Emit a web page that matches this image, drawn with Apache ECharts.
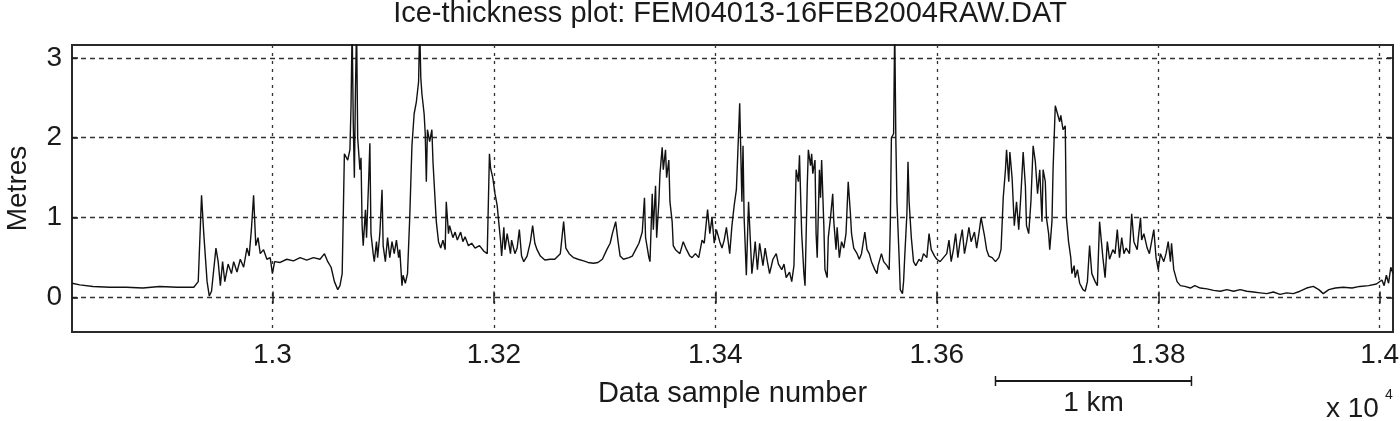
<!DOCTYPE html>
<html>
<head>
<meta charset="utf-8">
<title>Ice-thickness plot</title>
<script src="https://cdn.jsdelivr.net/npm/echarts@6/dist/echarts.min.js"></script>
<style>
  html, body { margin: 0; padding: 0; background: #fff; }
  #chart { width: 1400px; height: 421px; }
</style>
</head>
<body>
<div id="chart"></div>
<script>
// data (sample number / ice thickness in metres)
var sampleNo = [
  12819, 12826, 12838, 12853, 12868, 12883, 12898, 12914, 12929, 12933,
  12936, 12938, 12941, 12943, 12945, 12949, 12951, 12953, 12955, 12957,
  12960, 12963, 12965, 12968, 12971, 12974, 12977, 12979, 12981, 12983,
  12985, 12987, 12989, 12992, 12995, 12998, 13000, 13002, 13007, 13013,
  13019, 13025, 13031, 13037, 13043, 13047, 13050, 13053, 13056, 13059,
  13061, 13063, 13065, 13068, 13070, 13071, 13072, 13073, 13074, 13075,
  13076, 13077, 13079, 13080, 13081, 13082, 13084, 13085, 13087, 13088,
  13089, 13091, 13092, 13094, 13095, 13097, 13099, 13100, 13102, 13104,
  13106, 13108, 13110, 13112, 13114, 13115, 13117, 13118, 13120, 13122,
  13124, 13126, 13128, 13130, 13132, 13133, 13134, 13135, 13137, 13138,
  13139, 13140, 13142, 13144, 13145, 13147, 13148, 13150, 13152, 13154,
  13156, 13157, 13159, 13160, 13163, 13165, 13167, 13170, 13172, 13174,
  13177, 13180, 13183, 13187, 13191, 13194, 13196, 13197, 13199, 13201,
  13203, 13204, 13206, 13207, 13209, 13210, 13212, 13215, 13216, 13219,
  13221, 13223, 13225, 13227, 13230, 13233, 13235, 13237, 13239, 13242,
  13246, 13251, 13255, 13260, 13263, 13265, 13268, 13272, 13276, 13281,
  13285, 13290, 13294, 13298, 13302, 13305, 13307, 13310, 13312, 13314,
  13317, 13322, 13325, 13328, 13331, 13334, 13336, 13337, 13340, 13341,
  13343, 13344, 13346, 13347, 13349, 13350, 13352, 13353, 13355, 13356,
  13358, 13359, 13361, 13362, 13364, 13368, 13371, 13374, 13377, 13379,
  13382, 13385, 13388, 13390, 13393, 13395, 13397, 13399, 13401, 13404,
  13406, 13408, 13410, 13413, 13415, 13417, 13419, 13420, 13422, 13424,
  13425, 13426, 13428, 13430, 13431, 13433, 13435, 13436, 13438, 13440,
  13443, 13445, 13447, 13449, 13452, 13455, 13457, 13460, 13462, 13464,
  13467, 13469, 13471, 13473, 13475, 13476, 13478, 13480, 13481, 13483,
  13484, 13486, 13487, 13488, 13490, 13491, 13492, 13494, 13495, 13496,
  13498, 13499, 13501, 13502, 13504, 13506, 13507, 13509, 13510, 13512,
  13514, 13516, 13518, 13520, 13522, 13523, 13525, 13528, 13530, 13532,
  13535, 13537, 13539, 13541, 13544, 13546, 13547, 13550, 13552, 13555,
  13557, 13558, 13559, 13561, 13562, 13563, 13564, 13566, 13567, 13569,
  13570, 13571, 13573, 13574, 13575, 13577, 13579, 13581, 13584, 13586,
  13588, 13591, 13593, 13595, 13598, 13600, 13603, 13606, 13609, 13611,
  13613, 13615, 13617, 13619, 13621, 13623, 13625, 13627, 13629, 13631,
  13634, 13636, 13638, 13640, 13643, 13645, 13647, 13650, 13653, 13656,
  13658, 13660, 13662, 13663, 13665, 13666, 13668, 13670, 13672, 13674,
  13676, 13678, 13680, 13681, 13683, 13685, 13687, 13689, 13691, 13693,
  13695, 13696, 13698, 13699, 13701, 13702, 13704, 13705, 13707, 13709,
  13711, 13712, 13714, 13716, 13717, 13718, 13719, 13721, 13722, 13724,
  13725, 13727, 13729, 13732, 13734, 13736, 13738, 13740, 13743, 13745,
  13747, 13750, 13752, 13754, 13756, 13759, 13761, 13763, 13765, 13767,
  13769, 13771, 13774, 13776, 13778, 13781, 13782, 13784, 13785, 13787,
  13790, 13792, 13794, 13796, 13798, 13800, 13802, 13805, 13807, 13809,
  13811, 13812, 13814, 13817, 13820, 13824, 13829, 13833, 13838, 13844,
  13850, 13856, 13862, 13868, 13874, 13880, 13886, 13892, 13898, 13904,
  13910, 13916, 13922, 13928, 13934, 13940, 13945, 13949, 13954, 13960,
  13967, 13975, 13982, 13990, 13997, 14002, 14004, 14006, 14008, 14010,
  14012
]

var metres = [
  0.18, 0.16, 0.14, 0.13, 0.13, 0.12, 0.14, 0.13, 0.13, 0.2,
  1.28, 0.8, 0.2, 0.02, 0.08, 0.62, 0.45, 0.15, 0.45, 0.2,
  0.42, 0.3, 0.45, 0.32, 0.48, 0.38, 0.62, 0.52, 0.85, 1.28,
  0.65, 0.75, 0.55, 0.6, 0.48, 0.5, 0.3, 0.45, 0.44, 0.48,
  0.46, 0.5, 0.47, 0.5, 0.48, 0.55, 0.45, 0.38, 0.2, 0.1,
  0.15, 0.3, 1.8, 1.72, 1.85, 2.4, 3.4, 2.2, 1.5, 2.6,
  3.4, 2.0, 1.6, 1.75, 0.9, 0.65, 1.1, 0.75, 1.5, 1.93,
  0.8, 0.55, 0.45, 0.7, 0.5, 0.8, 1.35, 0.65, 0.45, 0.75,
  0.5, 0.7, 0.55, 0.72, 0.5, 0.6, 0.15, 0.28, 0.18, 0.3,
  1.0, 1.9, 2.3, 2.45, 2.7, 3.4, 2.75, 2.55, 2.3, 2.05,
  1.45, 2.1, 1.95, 2.1, 1.7, 1.2, 0.95, 0.7, 0.62, 0.72,
  0.6, 1.2, 0.8, 0.9, 0.75, 0.82, 0.72, 0.82, 0.7, 0.76,
  0.65, 0.68, 0.62, 0.65, 0.58, 0.55, 1.8, 1.62, 1.5, 1.3,
  1.15, 1.0, 0.72, 0.52, 0.88, 0.6, 0.8, 0.55, 0.72, 0.55,
  0.62, 0.85, 0.52, 0.45, 0.52, 0.7, 0.9, 0.68, 0.6, 0.52,
  0.47, 0.48, 0.48, 0.55, 0.95, 0.62, 0.55, 0.5, 0.48, 0.46,
  0.44, 0.43, 0.44, 0.48, 0.6, 0.68, 0.8, 0.95, 0.72, 0.52,
  0.48, 0.5, 0.52, 0.6, 0.68, 0.82, 1.25, 0.75, 0.5, 0.45,
  1.3, 0.85, 1.4, 0.75, 1.2, 1.55, 1.88, 1.6, 1.85, 1.5,
  1.72, 1.2, 0.95, 0.65, 0.6, 0.55, 0.7, 0.6, 0.52, 0.5,
  0.55, 0.5, 0.72, 0.68, 1.1, 0.8, 1.0, 0.68, 0.85, 0.7,
  0.62, 0.72, 0.88, 0.55, 0.9, 1.15, 1.35, 1.7, 2.43, 1.2,
  1.9, 1.0, 0.28, 1.2, 0.9, 0.3, 0.55, 0.7, 0.35, 0.68,
  0.4, 0.62, 0.45, 0.3, 0.48, 0.55, 0.42, 0.35, 0.42, 0.25,
  0.32, 0.2, 0.4, 1.6, 1.45, 1.78, 0.8, 0.3, 0.15, 1.4,
  1.85, 1.65, 1.8, 1.55, 1.72, 0.8, 0.5, 1.6, 1.25, 1.72,
  0.9, 0.35, 0.25, 0.75, 1.0, 1.3, 0.95, 0.6, 0.88, 0.5,
  0.7, 0.62, 0.8, 1.45, 1.05, 0.8, 0.62, 0.55, 0.48, 0.55,
  0.82, 0.6, 0.55, 0.45, 0.35, 0.3, 0.4, 0.55, 0.45, 0.4,
  0.35, 0.9, 2.0, 2.05, 3.4, 2.0, 1.2, 0.5, 0.1, 0.05,
  0.2, 0.5, 1.05, 1.7, 1.2, 0.75, 0.45, 0.4, 0.48, 0.45,
  0.55, 0.5, 0.8, 0.6, 0.52, 0.48, 0.45, 0.5, 0.55, 0.72,
  0.45, 0.6, 0.8, 0.5, 0.7, 0.85, 0.55, 0.7, 0.88, 0.7,
  0.82, 0.62, 0.8, 1.0, 0.78, 0.6, 0.52, 0.5, 0.45, 0.5,
  0.6, 1.25, 1.6, 1.85, 1.45, 1.82, 1.5, 0.9, 1.2, 0.85,
  1.3, 1.82, 1.4, 0.9, 0.8, 1.2, 1.9, 1.7, 1.3, 1.6,
  0.95, 1.6, 1.45, 1.0, 0.8, 0.6, 0.95, 1.6, 2.4, 2.3,
  2.2, 2.28, 2.1, 2.15, 1.0, 0.85, 0.7, 0.5, 0.3, 0.4,
  0.25, 0.35, 0.18, 0.1, 0.08, 0.2, 0.65, 0.3, 0.2, 0.15,
  0.95, 0.5, 0.25, 0.7, 0.48, 0.6, 0.55, 0.85, 0.5, 0.75,
  0.55, 0.62, 0.55, 1.05, 0.7, 0.6, 0.75, 1.0, 0.72, 0.8,
  0.62, 0.55, 0.7, 0.85, 0.5, 0.35, 0.55, 0.45, 0.55, 0.7,
  0.45, 0.68, 0.35, 0.2, 0.15, 0.14, 0.12, 0.15, 0.12, 0.11,
  0.09, 0.08, 0.1, 0.08, 0.1, 0.08, 0.07, 0.06, 0.05, 0.07,
  0.04, 0.06, 0.05, 0.08, 0.12, 0.14, 0.1, 0.05, 0.1, 0.12,
  0.13, 0.12, 0.14, 0.15, 0.17, 0.22, 0.15, 0.28, 0.18, 0.38,
  0.3
]

var xTicks = [13000, 13200, 13400, 13600, 13800, 14000]
var yTicks = [0, 1, 2, 3]
var scaleBarSamples = [13653, 13830] // 1 km along the track

var font = "'Liberation Sans', Arial, Helvetica, sans-serif"
var ink = '#1a1a1a'

var chart = echarts.init(document.getElementById('chart'))

function tickAxis(extra) {
  return Object.assign({
    axisLine: { show: false },
    axisTick: { show: true, inside: true, length: 6, lineStyle: { color: ink, width: 1.5 } },
    splitLine: { show: false }
  }, extra)
}

chart.setOption({
  animation: false,
  backgroundColor: '#fff',
  title: {
    text: 'Ice-thickness plot: FEM04013-16FEB2004RAW.DAT',
    left: 730,
    top: -1,
    padding: 0,
    textAlign: 'center',
    textStyle: { fontFamily: font, fontSize: 29, fontWeight: 'normal', color: ink }
  },
  grid: {
    left: 72,
    right: 7,
    top: 45,
    bottom: 89,
    outerBoundsMode: 'none',
    show: true,
    borderColor: '#2a2a2a',
    borderWidth: 2,
    backgroundColor: '#fff'
  },
  xAxis: [
    tickAxis({
      type: 'value',
      min: 12819,
      max: 14012,
      position: 'bottom',
      name: 'Data sample number',
      nameLocation: 'middle',
      nameGap: 47,
      nameTextStyle: { fontFamily: font, fontSize: 29, color: ink },
      axisTick: { show: true, inside: true, length: 6, customValues: xTicks, lineStyle: { color: ink, width: 1.5 } },
      axisLabel: {
        customValues: xTicks,
        margin: 9,
        fontFamily: font,
        fontSize: 28,
        color: ink,
        formatter: function (v) { return String(+(v / 10000).toFixed(2)) }
      },
      splitLine: { show: true, lineStyle: { color: '#333', width: 1.3, type: [3, 5] } }
    }),
    tickAxis({
      type: 'value',
      min: 12819,
      max: 14012,
      position: 'top',
      axisTick: { show: true, inside: true, length: 6, customValues: xTicks, lineStyle: { color: ink, width: 1.5 } },
      axisLabel: { show: false }
    })
  ],
  yAxis: [
    tickAxis({
      type: 'value',
      min: -0.43,
      max: 3.16,
      position: 'left',
      name: 'Metres',
      nameLocation: 'middle',
      nameGap: 40,
      nameTextStyle: { fontFamily: font, fontSize: 28, color: ink },
      axisTick: { show: true, inside: true, length: 6, customValues: yTicks, lineStyle: { color: ink, width: 1.5 } },
      axisLabel: {
        customValues: yTicks,
        margin: 10,
        fontFamily: font,
        fontSize: 28,
        color: ink
      },
      splitLine: { show: true, lineStyle: { color: '#333', width: 1.3, type: [5, 4] } }
    }),
    tickAxis({
      type: 'value',
      min: -0.43,
      max: 3.16,
      position: 'right',
      axisTick: { show: true, inside: true, length: 6, customValues: yTicks, lineStyle: { color: ink, width: 1.5 } },
      axisLabel: { show: false }
    })
  ],
  series: [{
    name: 'Ice thickness',
    type: 'line',
    xAxisIndex: 0,
    yAxisIndex: 0,
    showSymbol: false,
    symbol: 'none',
    clip: true,
    lineStyle: { color: '#111', width: 1.4 },
    data: sampleNo.map(function (s, i) { return [s, metres[i]] })
  }]
})

// scale bar and exponent note, placed from the x axis scale
function drawNotes() {
  var x0 = chart.convertToPixel({ xAxisIndex: 0 }, scaleBarSamples[0])
  var x1 = chart.convertToPixel({ xAxisIndex: 0 }, scaleBarSamples[1])
  var barY = 381
  chart.setOption({
    graphic: [
      { type: 'line', shape: { x1: x0, y1: barY, x2: x1, y2: barY }, style: { stroke: ink, lineWidth: 2 } },
      { type: 'line', shape: { x1: x0, y1: barY - 5, x2: x0, y2: barY + 5 }, style: { stroke: ink, lineWidth: 1.5 } },
      { type: 'line', shape: { x1: x1, y1: barY - 5, x2: x1, y2: barY + 5 }, style: { stroke: ink, lineWidth: 1.5 } },
      {
        type: 'text', x: (x0 + x1) / 2, y: 403,
        style: { text: '1 km', font: '28px ' + font, fill: ink, textAlign: 'center', textVerticalAlign: 'middle' }
      },
      {
        type: 'text', x: 1326, y: 409,
        style: { text: 'x 10', font: '28px ' + font, fill: ink, textAlign: 'left', textVerticalAlign: 'middle' }
      },
      {
        type: 'text', x: 1385, y: 395,
        style: { text: '4', font: '14px ' + font, fill: ink, textAlign: 'left', textVerticalAlign: 'middle' }
      }
    ]
  })
}
drawNotes()
</script>
</body>
</html>
